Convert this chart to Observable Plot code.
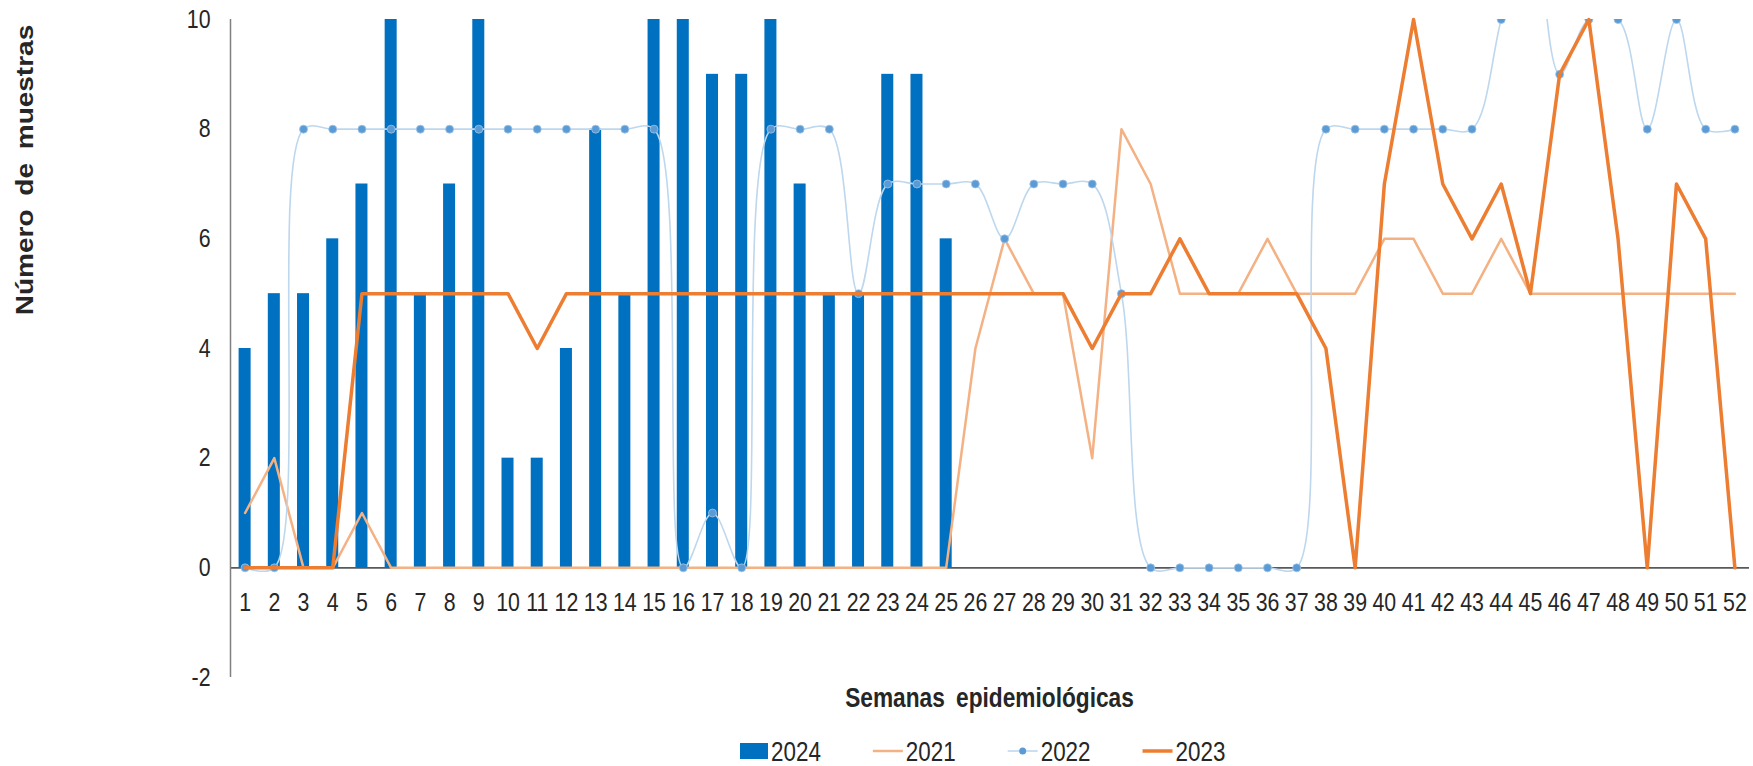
<!DOCTYPE html>
<html>
<head>
<meta charset="utf-8">
<script src="https://cdn.jsdelivr.net/npm/d3@7"></script>
<script src="https://cdn.jsdelivr.net/npm/@observablehq/plot@0.6"></script>
<style>
  body { margin: 0; background: #fff; }
  #wrap { position: relative; width: 1753px; height: 766px; overflow: hidden; }
  #chart { position: absolute; left: 0; top: 0; }
  #overlay { position: absolute; left: 0; top: 0; pointer-events: none; }
</style>
</head>
<body>
<div id="wrap">
  <div id="chart"></div>
</div>
<script>
const FONT = '"Liberation Sans", Arial, sans-serif';
const SQUEEZE = 0.82;   // the reference text is horizontally condensed

const weeks = [1,2,3,4,5,6,7,8,9,10,11,12,13,14,15,16,17,18,19,20,21,22,23,24,25,26,
               27,28,29,30,31,32,33,34,35,36,37,38,39,40,41,42,43,44,45,46,47,48,49,50,51,52];
const yTicks = [-2, 0, 2, 4, 6, 8, 10];

// 2024 (bars), weeks 1-25
const values2024 = [4,5,5,6,7,10,5,7,10,2,2,4,8,5,10,10,9,9,10,7,5,5,9,9,6];
// 2021
const values2021 = [1,2,0,0,1,0,0,0,0,0,0,0,0,0,0,0,0,0,0,0,0,0,0,0,0,4,
                    6,5,5,2,8,7,5,5,5,6,5,5,5,6,6,5,5,6,5,5,5,5,5,5,5,5];
// 2022 (week 45 runs above the axis maximum and is clipped)
const values2022 = [0,0,8,8,8,8,8,8,8,8,8,8,8,8,8,0,1,0,8,8,8,5,7,7,7,7,
                    6,7,7,7,5,0,0,0,0,0,0,8,8,8,8,8,8,10,12,9,10,10,8,10,8,8];
// 2023
const values2023 = [0,0,0,0,5,5,5,5,5,5,4,5,5,5,5,5,5,5,5,5,5,5,5,5,5,5,
                    5,5,5,4,5,5,6,5,5,5,5,4,0,7,10,7,6,7,5,9,10,6,0,7,6,0];

const seriesNames = ["2024", "2021", "2022", "2023"];
const colors = {"2024": "#0070C0", "2021": "#F4B183", "2022": "#BDD7EE", "2023": "#ED7D31"};
const markerColor = "#5B9BD5";
const yTitle = "Número de muestras";
const xTitle = "Semanas epidemiológicas";

const bars = values2024.map((v, i) => ({week: weeks[i], value: v}));
const toRows = arr => arr.map((v, i) => ({week: weeks[i], value: v}));
const d2021 = toRows(values2021);
const d2022 = toRows(values2022);
const d2023 = toRows(values2023);

const plot = Plot.plot({
  width: 1753,
  height: 686,
  marginLeft: 230,
  marginRight: 4,
  marginTop: 19,
  marginBottom: 9,
  style: {fontFamily: FONT, fontSize: "26px", color: "#262626", background: "white", overflow: "visible"},
  x: {type: "linear", domain: [0.5, 52.5], axis: null},
  y: {domain: [-2, 10], ticks: yTicks, tickSize: 0, tickPadding: 20, tickFormat: d => String(d), label: null},
  marks: [
    Plot.rectY(bars, {x1: d => d.week - 0.5, x2: d => d.week + 0.5, y1: 0, y2: "value",
                      insetLeft: 8.6, insetRight: 8.6, fill: colors["2024"]}),
    Plot.ruleY([0], {stroke: "#595959", strokeWidth: 1.6}),
    Plot.ruleX([0.5], {y1: -2, y2: 10, stroke: "#808080", strokeWidth: 1.5}),
    Plot.line(d2021, {x: "week", y: "value", stroke: colors["2021"], strokeWidth: 2.5}),
    Plot.line(d2022, {x: "week", y: "value", stroke: colors["2022"], strokeWidth: 1.6,
                      curve: "catmull-rom", clip: true}),
    Plot.dot(d2022, {x: "week", y: "value", r: 4, fill: markerColor, stroke: "#9DC3E6", strokeWidth: 0.8, clip: true}),
    Plot.line(d2023, {x: "week", y: "value", stroke: colors["2023"], strokeWidth: 3.5}),
    Plot.text(weeks, {x: d => d, y: 0, dy: 35, text: d => String(d), fill: "#262626"})
  ]
});
document.getElementById("chart").appendChild(plot);

function squeeze(t, k) {
  const L = t.getComputedTextLength();
  if (L > 0) {
    t.setAttribute("textLength", (L * k).toFixed(2));
    t.setAttribute("lengthAdjust", "spacingAndGlyphs");
  }
}
plot.querySelectorAll("text").forEach(t => squeeze(t, SQUEEZE));

// overlay: axis titles and legend (below / beside the plot SVG)
const ov = d3.select("#wrap").append("svg")
  .attr("id", "overlay").attr("width", 1753).attr("height", 766)
  .style("font-family", FONT).style("fill", "#262626");

// y title (rotated; condensed in thickness)
ov.append("text")
  .attr("transform", "translate(25,170) rotate(-90) scale(1,0.84)")
  .attr("text-anchor", "middle").attr("dominant-baseline", "central")
  .style("font-weight", "bold").style("font-size", "28px").style("word-spacing", "6px")
  .text(yTitle);

// x title
const xt = ov.append("text")
  .attr("x", 989.5).attr("y", 698)
  .attr("text-anchor", "middle").attr("dominant-baseline", "central")
  .style("font-weight", "bold").style("font-size", "27px").style("word-spacing", "6px")
  .text(xTitle);
squeeze(xt.node(), 0.84);

// legend
let lx = 740;
const ly = 751;
seriesNames.forEach(name => {
  const g = ov.append("g");
  let w;
  if (name === "2024") {
    w = 28;
    g.append("rect").attr("x", lx).attr("y", ly - 8).attr("width", w).attr("height", 16).attr("fill", colors[name]);
  } else {
    w = 30;
    g.append("line").attr("x1", lx).attr("x2", lx + w).attr("y1", ly).attr("y2", ly)
      .attr("stroke", colors[name]).attr("stroke-width", name === "2023" ? 3.5 : (name === "2021" ? 2.5 : 1.6));
    if (name === "2022") {
      g.append("circle").attr("cx", lx + w / 2).attr("cy", ly).attr("r", 3.5).attr("fill", markerColor);
    }
  }
  const t = g.append("text").attr("x", lx + w + 3).attr("y", ly)
    .attr("dominant-baseline", "central").style("font-size", "28px").text(name);
  squeeze(t.node(), 0.8);
  const tw = parseFloat(t.attr("textLength")) || t.node().getComputedTextLength();
  lx = lx + w + 3 + tw + 52;
});
</script>
</body>
</html>
